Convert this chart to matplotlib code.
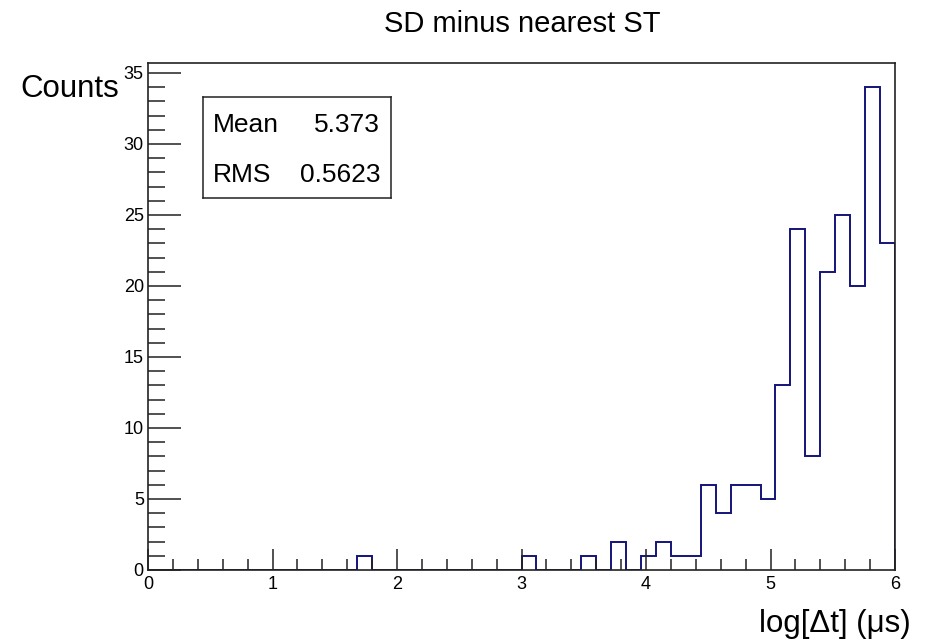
import numpy as np
import matplotlib.pyplot as plt
from matplotlib.ticker import MultipleLocator

# histogram contents, 50 bins of width 0.12 between 0 and 6
n_bins = 50
x_range = (0.0, 6.0)
counts = [0, 0, 0, 0, 0, 0, 0, 0, 0, 0,
          0, 0, 0, 0, 1, 0, 0, 0, 0, 0,
          0, 0, 0, 0, 0, 1, 0, 0, 0, 1,
          0, 2, 0, 1, 2, 1, 1, 6, 4, 6,
          6, 5, 13, 24, 8, 21, 25, 20, 34, 23]
stat_names = ['Mean', 'RMS']
stat_values = ['5.373', '0.5623']

title = 'SD minus nearest ST'
xlabel = 'log[\u0394t] (\u03bcs)'
ylabel = 'Counts'

plt.rcParams['font.family'] = ['Liberation Sans', 'DejaVu Sans']

W, H = 930, 643
edges = np.linspace(x_range[0], x_range[1], n_bins + 1)

fig = plt.figure(figsize=(W / 100, H / 100), dpi=100)
ax = fig.add_axes([148 / W, 1 - 570 / H, 747 / W, 507 / H])

ax.stairs(counts, edges, color='#14147a', linewidth=1.4, baseline=0)

ax.set_xlim(*x_range)
ax.set_ylim(0, max(counts) * 1.05)

for s in ax.spines.values():
    s.set_linewidth(1.2)
    s.set_color('#222222')

ax.xaxis.set_major_locator(MultipleLocator(1))
ax.xaxis.set_minor_locator(MultipleLocator(0.2))
ax.yaxis.set_major_locator(MultipleLocator(5))
ax.yaxis.set_minor_locator(MultipleLocator(1))
ax.tick_params(which='both', direction='in', top=False, right=False,
               width=1.1, color='#222222', labelsize=13)
ax.tick_params(axis='x', which='major', length=15, pad=4)
ax.tick_params(axis='x', which='minor', length=8)
ax.tick_params(axis='y', which='major', length=24, pad=3)
ax.tick_params(axis='y', which='minor', length=12)

fig.text(522 / W, 1 - 32 / H, title, ha='center', va='baseline', fontsize=21)
fig.text(20 / W, 1 - 97 / H, ylabel, ha='left', va='baseline', fontsize=22.5)
fig.text(911 / W, 1 - 632 / H, xlabel, ha='right', va='baseline', fontsize=22.5)

# statistics box
box = fig.add_axes([203 / W, 1 - 198 / H, 188 / W, 101 / H])
box.set_xticks([])
box.set_yticks([])
for s in box.spines.values():
    s.set_linewidth(1.1)
    s.set_color('#222222')
for i, (name, val) in enumerate(zip(stat_names, stat_values)):
    y = 1 - (132 + 50 * i) / H
    fig.text(213 / W, y, name, ha='left', va='baseline', fontsize=19)
    fig.text(380 / W, y, val, ha='right', va='baseline', fontsize=19)

fig.savefig('out.png', dpi=100)
